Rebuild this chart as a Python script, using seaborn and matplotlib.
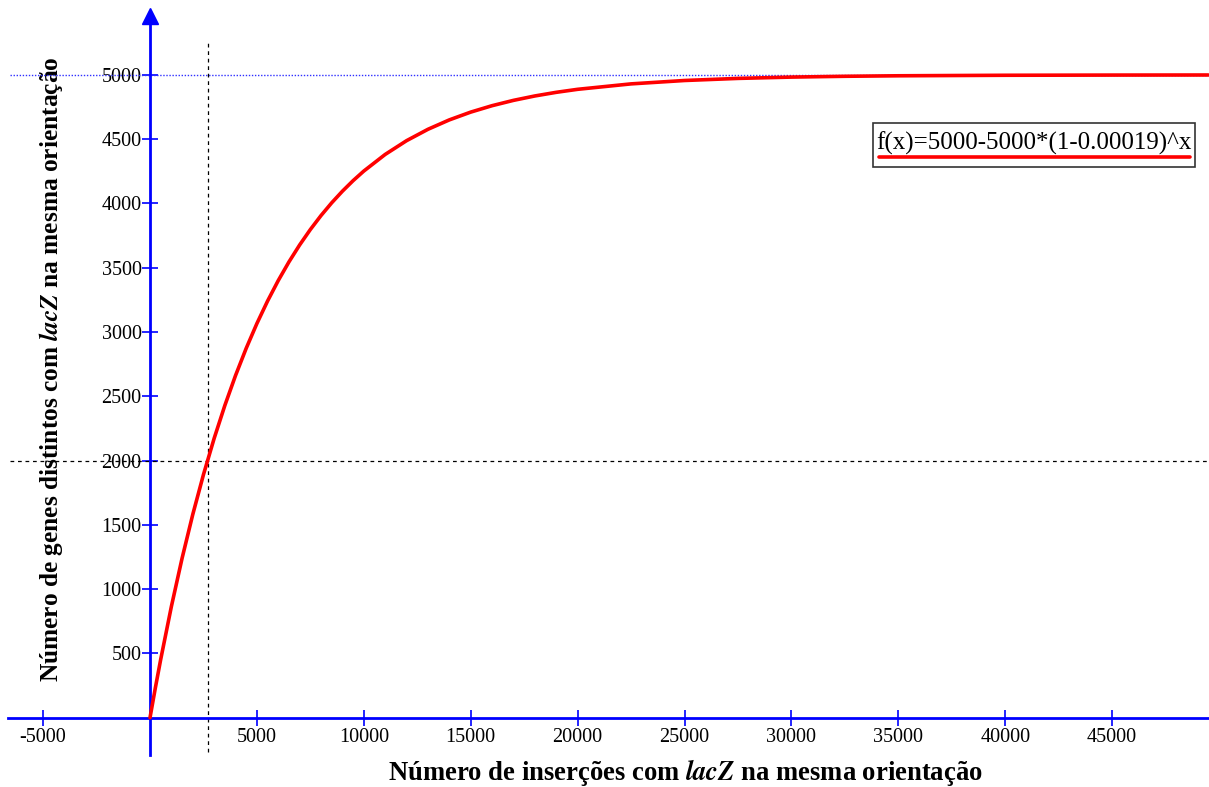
import matplotlib
matplotlib.use("Agg")
import matplotlib.pyplot as plt
import matplotlib.patches as mpatches
import seaborn as sns
import pandas as pd

insercoes = [0, 250, 500, 1000, 1500, 2000, 2500, 3000, 3500, 4000, 4500, 5000,
             5500, 6000, 6500, 7000, 7500, 8000, 8500, 9000, 9500, 10000,
             11000, 12000, 13000, 14000, 15000, 16000, 17000, 18000, 19000, 20000,
             22500, 25000, 27500, 30000, 32500, 35000, 40000, 45000, 49500]
genes = [0, 232.0, 453.2, 865.3, 1240.1, 1580.9, 1890.8, 2172.6, 2428.8, 2661.9, 2873.8, 3066.5,
         3241.8, 3401.1, 3546.0, 3677.8, 3797.6, 3906.6, 4005.7, 4095.8, 4177.8, 4252.3,
         4381.7, 4488.7, 4577.2, 4650.4, 4710.9, 4760.9, 4802.3, 4836.5, 4864.8, 4888.2,
         4930.5, 4956.8, 4973.1, 4983.3, 4989.6, 4993.5, 4997.5, 4999.0, 4999.6]

x_ticks = [-5000, 5000, 10000, 15000, 20000, 25000, 30000, 35000, 40000, 45000]
y_ticks = [500, 1000, 1500, 2000, 2500, 3000, 3500, 4000, 4500, 5000]

cross_x = 2690   # x where f(x) = 2000
cross_y = 2000
plateau = 5000
formula = "f(x)=5000-5000*(1-0.00019)^x"

df = pd.DataFrame({"x": insercoes, "y": genes})

sns.set_theme(style="white")
plt.rcParams["font.family"] = ["Liberation Serif", "DejaVu Serif"]
plt.rcParams["mathtext.fontset"] = "stix"
plt.rcParams["text.color"] = "black"
plt.rcParams["axes.labelcolor"] = "black"

fig = plt.figure(figsize=(12.09, 7.87), dpi=100)
ax = fig.add_axes([0, 0, 1, 1])

xmin, xmax = -7016, 49532
ymin, ymax = -539, 5583
ax.set_xlim(xmin, xmax)
ax.set_ylim(ymin, ymax)

# reference lines
ax.hlines(plateau, -6550, xmax, color="#3030ff", linestyle=(0, (1, 1.2)), linewidth=1.0, zorder=1)
ax.hlines(cross_y, -6550, xmax, color="black", linestyle=(0, (3, 3)), linewidth=0.9, zorder=1)
ax.vlines(cross_x, -270, 5270, color="black", linestyle=(0, (3, 3)), linewidth=0.9, zorder=1)

sns.lineplot(data=df, x="x", y="y", color="red", linewidth=2.6, ax=ax, zorder=4)

# axes through the origin
for side in ["top", "right"]:
    ax.spines[side].set_visible(False)
ax.spines["left"].set_position(("data", 0))
ax.spines["bottom"].set_position(("data", 0))
ax.spines["left"].set_bounds(-290, 5440)
ax.spines["bottom"].set_bounds(-6630, xmax)
for side in ["left", "bottom"]:
    ax.spines[side].set_color("blue")
    ax.spines[side].set_linewidth(2)
    ax.spines[side].set_zorder(3)
ax.plot(0, 5455, marker="^", color="blue", markersize=11, clip_on=False, zorder=5)

ax.set_xticks(x_ticks)
ax.set_yticks(y_ticks)
ax.tick_params(axis="both", direction="inout", length=11, width=1.2, color="blue",
               labelcolor="black", labelsize=14.5, bottom=True, left=True)
ax.tick_params(axis="x", pad=2)
ax.tick_params(axis="y", pad=0.5)
ax.set_xticklabels([str(v) for v in x_ticks])
ax.set_yticklabels([str(v) for v in y_ticks])

ax.set_xlabel(r"Número de inserções com $\mathbfit{lacZ}$ na mesma orientação",
              fontsize=19.2, fontweight="bold", va="center", color="black")
ax.set_ylabel(r"Número de genes distintos com $\mathbfit{lacZ}$ na mesma orientação",
              fontsize=18.3, fontweight="bold", va="center", color="black")
ax.xaxis.set_label_coords(0.567, 0.018)
ax.yaxis.set_label_coords(0.042, 0.531)

# formula box
ax.add_patch(mpatches.Rectangle((0.7221, 0.7878), 0.2663, 0.0559, transform=ax.transAxes,
                                facecolor="white", edgecolor="#333333", linewidth=1.2, zorder=6))
ax.text(0.8555, 0.8094, formula, transform=ax.transAxes, ha="center", va="baseline",
        fontsize=18, color="black", zorder=7)
ax.plot([0.727, 0.984], [0.8005, 0.8005], transform=ax.transAxes, color="red",
        linewidth=2.6, zorder=7)

fig.savefig("out.png", dpi=100)
